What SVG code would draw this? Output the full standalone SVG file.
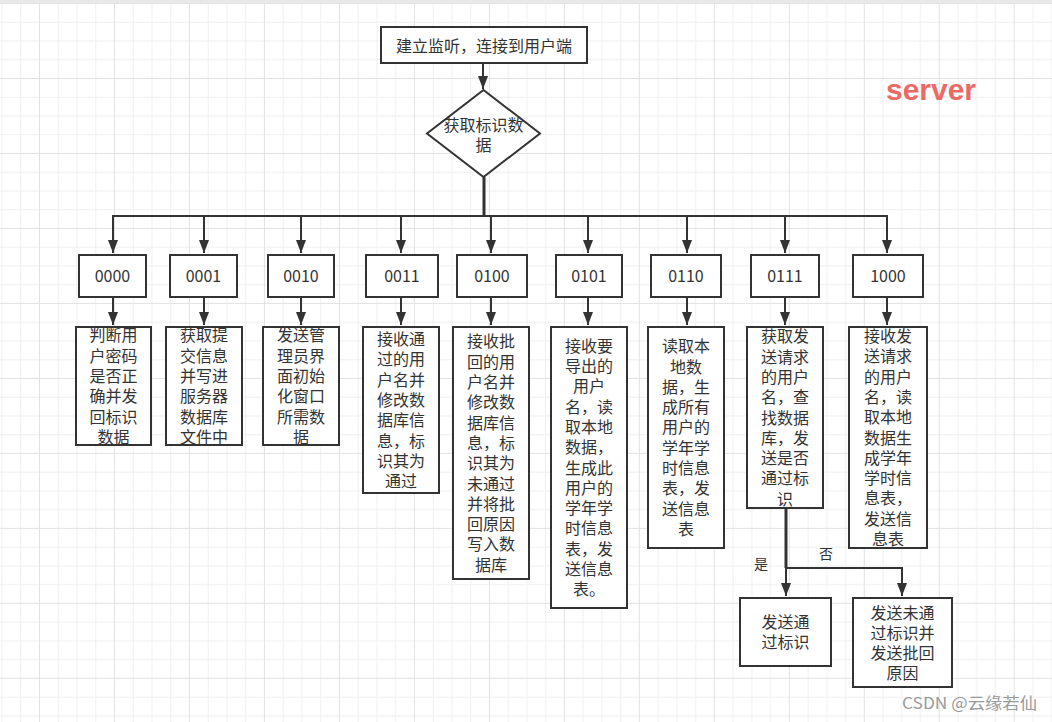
<svg xmlns="http://www.w3.org/2000/svg" width="1052" height="722" viewBox="0 0 1052 722">
<defs>
<pattern id="grid" patternUnits="userSpaceOnUse" x="39" y="78" width="74.98" height="74.98">
<rect x="0" y="0" width="74.98" height="74.98" fill="#ffffff"/>
<rect x="18.745" y="0" width="1" height="74.98" fill="#f0f0f0"/>
<rect x="37.49" y="0" width="1" height="74.98" fill="#f0f0f0"/>
<rect x="56.235" y="0" width="1" height="74.98" fill="#f0f0f0"/>
<rect x="0" y="18.745" width="74.98" height="1" fill="#f0f0f0"/>
<rect x="0" y="37.49" width="74.98" height="1" fill="#f0f0f0"/>
<rect x="0" y="56.235" width="74.98" height="1" fill="#f0f0f0"/>
<rect x="0" y="0" width="1" height="74.98" fill="#e2e2e2"/>
<rect x="0" y="0" width="74.98" height="1" fill="#e2e2e2"/>
</pattern>
<marker id="arr" markerUnits="userSpaceOnUse" markerWidth="13" markerHeight="10" viewBox="0 0 13 10" refX="13" refY="5" orient="auto">
<path d="M0,0 L13,5 L0,10 z" fill="#333333"/>
</marker>
</defs>
<style>
.box{fill:#ffffff;stroke:#333333;stroke-width:2}
.t{font-family:"Noto Sans CJK SC","Noto Sans",sans-serif;font-size:16px;fill:#333333;text-anchor:middle}
.lbl{font-family:"Noto Sans CJK SC","Noto Sans",sans-serif;font-size:14px;fill:#333333;text-anchor:middle}
.e{fill:none;stroke:#333333;stroke-width:2}
.ea{fill:none;stroke:#333333;stroke-width:2;marker-end:url(#arr)}
</style>
<rect x="0" y="0" width="1052" height="722" fill="url(#grid)"/>
<rect x="0" y="0" width="1052" height="3" fill="#e8e8e8"/>

<g id="connectors">
<path class="ea" d="M483,63 L483,89"/>
<path class="e" d="M484,177 L484,216" style="stroke-width:3"/>
<path class="ea" d="M484,216 L113,216 L113,253"/>
<path class="ea" d="M484,216 L204,216 L204,253"/>
<path class="ea" d="M484,216 L301,216 L301,253"/>
<path class="ea" d="M484,216 L401,216 L401,253"/>
<path class="ea" d="M484,216 L491,216 L491,253"/>
<path class="ea" d="M484,216 L588,216 L588,253"/>
<path class="ea" d="M484,216 L687,216 L687,253"/>
<path class="ea" d="M484,216 L785,216 L785,253"/>
<path class="ea" d="M484,216 L887,216 L887,253"/>
<path class="ea" d="M113,297 L113,325"/>
<path class="ea" d="M204,297 L204,325"/>
<path class="ea" d="M301,297 L301,325"/>
<path class="ea" d="M401,297 L401,325"/>
<path class="ea" d="M491,297 L491,325"/>
<path class="ea" d="M588,297 L588,325"/>
<path class="ea" d="M687,297 L687,325"/>
<path class="ea" d="M785,297 L785,325"/>
<path class="ea" d="M887,297 L887,325"/>
<path class="e" d="M786,508 L786,568" style="stroke-width:3"/>
<path class="ea" d="M786,568 L786,596"/>
<path class="ea" d="M786,568 L902,568 L902,596"/>
<text class="lbl" x="761" y="569">是</text>
<text class="lbl" x="826" y="559">否</text>
</g>

<g id="start">
<rect class="box" x="381" y="27" width="206" height="36"/>
<text class="t" x="484" y="51.5">建立监听，连接到用户端</text>
</g>

<g id="decision">
<path class="box" d="M483.5,90 L540,133.5 L483.5,177 L427,133.5 Z"/>
<text class="t" x="483.5" y="131">获取标识数</text>
<text class="t" x="483.5" y="151">据</text>
</g>

<g id="n0000">
<rect class="box" x="79" y="255" width="67" height="42"/>
<text class="t" x="112.5" y="282">0000</text>
</g>
<g id="n0001">
<rect class="box" x="170" y="255" width="67" height="42"/>
<text class="t" x="203.5" y="282">0001</text>
</g>
<g id="n0010">
<rect class="box" x="268" y="255" width="66" height="42"/>
<text class="t" x="301" y="282">0010</text>
</g>
<g id="n0011">
<rect class="box" x="366" y="255" width="72" height="42"/>
<text class="t" x="402" y="282">0011</text>
</g>
<g id="n0100">
<rect class="box" x="457" y="255" width="70" height="42"/>
<text class="t" x="492" y="282">0100</text>
</g>
<g id="n0101">
<rect class="box" x="556" y="255" width="66" height="42"/>
<text class="t" x="589" y="282">0101</text>
</g>
<g id="n0110">
<rect class="box" x="651" y="255" width="70" height="42"/>
<text class="t" x="686" y="282">0110</text>
</g>
<g id="n0111">
<rect class="box" x="751" y="255" width="68" height="42"/>
<text class="t" x="785" y="282">0111</text>
</g>
<g id="n1000">
<rect class="box" x="853" y="255" width="70" height="42"/>
<text class="t" x="888" y="282">1000</text>
</g>

<g id="d0000">
<rect class="box" x="76" y="327" width="75" height="118"/>
<text class="t" x="113.5" y="341.3"><tspan x="113.5">判断用</tspan><tspan x="113.5" dy="20.3">户密码</tspan><tspan x="113.5" dy="20.3">是否正</tspan><tspan x="113.5" dy="20.3">确并发</tspan><tspan x="113.5" dy="20.3">回标识</tspan><tspan x="113.5" dy="20.3">数据</tspan></text>
</g>
<g id="d0001">
<rect class="box" x="166" y="327" width="76" height="118"/>
<text class="t" x="204" y="341.3"><tspan x="204">获取提</tspan><tspan x="204" dy="20.3">交信息</tspan><tspan x="204" dy="20.3">并写进</tspan><tspan x="204" dy="20.3">服务器</tspan><tspan x="204" dy="20.3">数据库</tspan><tspan x="204" dy="20.3">文件中</tspan></text>
</g>
<g id="d0010">
<rect class="box" x="263" y="327" width="76" height="118"/>
<text class="t" x="301" y="341.3"><tspan x="301">发送管</tspan><tspan x="301" dy="20.3">理员界</tspan><tspan x="301" dy="20.3">面初始</tspan><tspan x="301" dy="20.3">化窗口</tspan><tspan x="301" dy="20.3">所需数</tspan><tspan x="301" dy="20.3">据</tspan></text>
</g>
<g id="d0011">
<rect class="box" x="363" y="327" width="76" height="166"/>
<text class="t" x="401" y="345"><tspan x="401">接收通</tspan><tspan x="401" dy="20.3">过的用</tspan><tspan x="401" dy="20.3">户名并</tspan><tspan x="401" dy="20.3">修改数</tspan><tspan x="401" dy="20.3">据库信</tspan><tspan x="401" dy="20.3">息，标</tspan><tspan x="401" dy="20.3">识其为</tspan><tspan x="401" dy="20.3">通过</tspan></text>
</g>
<g id="d0100">
<rect class="box" x="453" y="327" width="76" height="252"/>
<text class="t" x="491" y="347.4"><tspan x="491">接收批</tspan><tspan x="491" dy="20.3">回的用</tspan><tspan x="491" dy="20.3">户名并</tspan><tspan x="491" dy="20.3">修改数</tspan><tspan x="491" dy="20.3">据库信</tspan><tspan x="491" dy="20.3">息，标</tspan><tspan x="491" dy="20.3">识其为</tspan><tspan x="491" dy="20.3">未通过</tspan><tspan x="491" dy="20.3">并将批</tspan><tspan x="491" dy="20.3">回原因</tspan><tspan x="491" dy="20.3">写入数</tspan><tspan x="491" dy="20.3">据库</tspan></text>
</g>
<g id="d0101">
<rect class="box" x="551" y="327" width="76" height="281"/>
<text class="t" x="589" y="351.7"><tspan x="589">接收要</tspan><tspan x="589" dy="20.3">导出的</tspan><tspan x="589" dy="20.3">用户</tspan><tspan x="589" dy="20.3">名，读</tspan><tspan x="589" dy="20.3">取本地</tspan><tspan x="589" dy="20.3">数据，</tspan><tspan x="589" dy="20.3">生成此</tspan><tspan x="589" dy="20.3">用户的</tspan><tspan x="589" dy="20.3">学年学</tspan><tspan x="589" dy="20.3">时信息</tspan><tspan x="589" dy="20.3">表，发</tspan><tspan x="589" dy="20.3">送信息</tspan><tspan x="589" dy="20.3">表。</tspan></text>
</g>
<g id="d0110">
<rect class="box" x="648" y="327" width="76" height="221"/>
<text class="t" x="686" y="352.2"><tspan x="686">读取本</tspan><tspan x="686" dy="20.3">地数</tspan><tspan x="686" dy="20.3">据，生</tspan><tspan x="686" dy="20.3">成所有</tspan><tspan x="686" dy="20.3">用户的</tspan><tspan x="686" dy="20.3">学年学</tspan><tspan x="686" dy="20.3">时信息</tspan><tspan x="686" dy="20.3">表，发</tspan><tspan x="686" dy="20.3">送信息</tspan><tspan x="686" dy="20.3">表</tspan></text>
</g>
<g id="d0111">
<rect class="box" x="747" y="327" width="76" height="181"/>
<text class="t" x="785" y="342.3"><tspan x="785">获取发</tspan><tspan x="785" dy="20.3">送请求</tspan><tspan x="785" dy="20.3">的用户</tspan><tspan x="785" dy="20.3">名，查</tspan><tspan x="785" dy="20.3">找数据</tspan><tspan x="785" dy="20.3">库，发</tspan><tspan x="785" dy="20.3">送是否</tspan><tspan x="785" dy="20.3">通过标</tspan><tspan x="785" dy="20.3">识</tspan></text>
</g>
<g id="d1000">
<rect class="box" x="849" y="327" width="78" height="221"/>
<text class="t" x="888" y="342"><tspan x="888">接收发</tspan><tspan x="888" dy="20.3">送请求</tspan><tspan x="888" dy="20.3">的用户</tspan><tspan x="888" dy="20.3">名，读</tspan><tspan x="888" dy="20.3">取本地</tspan><tspan x="888" dy="20.3">数据生</tspan><tspan x="888" dy="20.3">成学年</tspan><tspan x="888" dy="20.3">学时信</tspan><tspan x="888" dy="20.3">息表，</tspan><tspan x="888" dy="20.3">发送信</tspan><tspan x="888" dy="20.3">息表</tspan></text>
</g>

<g id="pass">
<rect class="box" x="740" y="598" width="91" height="68"/>
<text class="t" x="785.5" y="628"><tspan x="785.5">发送通</tspan><tspan x="785.5" dy="20">过标识</tspan></text>
</g>
<g id="fail">
<rect class="box" x="853" y="598" width="99" height="89"/>
<text class="t" x="902.5" y="619"><tspan x="902.5">发送未通</tspan><tspan x="902.5" dy="20">过标识并</tspan><tspan x="902.5" dy="20">发送批回</tspan><tspan x="902.5" dy="20">原因</tspan></text>
</g>

<g id="title">
<text x="931" y="99.5" style="font-family:'Liberation Sans',Arial,sans-serif;font-size:30px;font-weight:bold;fill:#EA6B66;text-anchor:middle">server</text>
</g>
<g id="watermark">
<text x="902" y="709" textLength="135" lengthAdjust="spacingAndGlyphs" style="font-family:'Noto Sans CJK SC','Noto Sans',sans-serif;font-size:16px;fill:#9a9a9a">CSDN @云缘若仙</text>
</g>
</svg>
